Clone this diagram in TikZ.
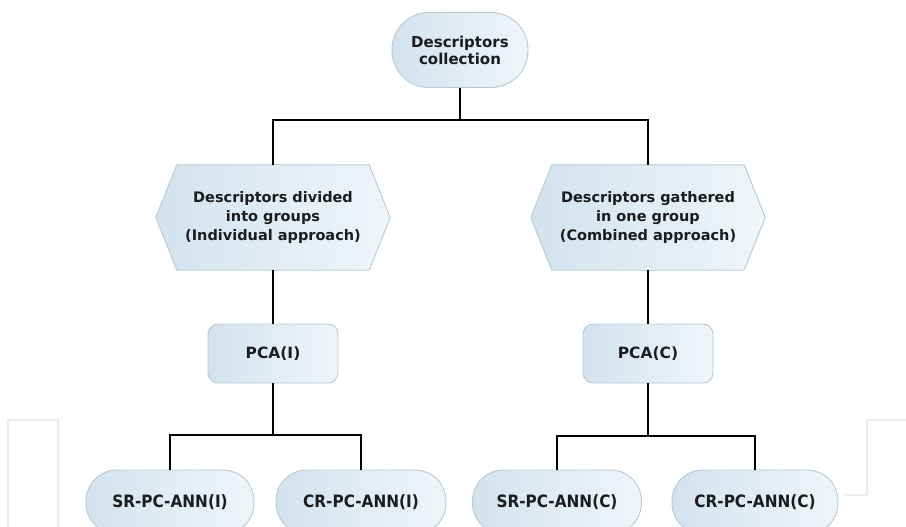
\documentclass[tikz,border=0pt]{standalone}
\usepackage{fontspec}
\setmainfont{DejaVu Sans}
\newfontfamily\condfont{DejaVu Sans Condensed}
\usetikzlibrary{calc}
\pgfdeclarelayer{background}
\pgfsetlayers{background,main}
\definecolor{fillA}{RGB}{210,227,238}
\definecolor{fillB}{RGB}{240,245,249}
\definecolor{edgec}{RGB}{185,200,212}
\definecolor{wm}{RGB}{236,236,236}
\definecolor{txt}{RGB}{28,28,28}
\begin{document}
\begin{tikzpicture}[x=1pt,y=-1pt,
  shadefill/.style={left color=fillA, right color=fillB},
  box/.style={draw=edgec, line width=0.9pt, shadefill, text=txt, align=center, inner sep=0pt,
    font=\fontsize{15}{17}\selectfont\bfseries},
  topbox/.style={box, minimum width=136pt, minimum height=75pt, rounded corners=37pt},
  hexnode/.style={inner sep=0pt, align=center, text=txt, minimum width=234pt, minimum height=105pt,
    font=\fontsize{14.5}{19}\selectfont\bfseries},
  hexfill/.style={draw=edgec, line width=0.9pt, shadefill},
  pcabox/.style={box, minimum width=130pt, minimum height=59pt, rounded corners=10pt,
    font=\fontsize{15.5}{18}\selectfont\bfseries},
  leafbox/.style={box, minimum height=64pt, rounded corners=31pt,
    font=\condfont\fontsize{17}{19}\selectfont\bfseries},
  conn/.style={draw=black, line width=1.7pt},
  wmline/.style={draw=wm, line width=1.5pt}
]
\useasboundingbox (0,0) rectangle (906,527);
% faint watermark frame lines
\draw[wmline] (8,527) -- (8,420) -- (58,420) -- (58,527);
\draw[wmline] (845,495) -- (867,495) -- (867,420) -- (906,420);

\node[topbox] (top) at (460,50) {Descriptors\\collection};
\node[hexnode] (h1) at (273,217.5) {Descriptors divided\\into groups\\(Individual approach)};
\node[hexnode] (h2) at (648,217.5) {Descriptors gathered\\in one group\\(Combined approach)};
\node[pcabox] (p1) at (273,353.5) {PCA(I)};
\node[pcabox] (p2) at (648,353.5) {PCA(C)};
\node[leafbox, minimum width=168pt] (b1) at (170,502) {SR-PC-ANN(I)};
\node[leafbox, minimum width=170pt] (b2) at (361,502) {CR-PC-ANN(I)};
\node[leafbox, minimum width=169pt] (b3) at (557,502) {SR-PC-ANN(C)};
\node[leafbox, minimum width=166pt] (b4) at (755,502) {CR-PC-ANN(C)};

\begin{pgfonlayer}{background}
\foreach \h in {h1,h2}{
  \path[hexfill] (\h.west) -- ([xshift=21pt]\h.north west) -- ([xshift=-21pt]\h.north east)
    -- (\h.east) -- ([xshift=-21pt]\h.south east) -- ([xshift=21pt]\h.south west) -- cycle;
}
\end{pgfonlayer}

\coordinate (j1) at (460,120);
\coordinate (j2) at (273,435);
\coordinate (j3) at (648,436);
\draw[conn] (top.south) -- (j1) -| (h1.north);
\draw[conn] (j1) -| (h2.north);
\draw[conn] (h1.south) -- (p1.north);
\draw[conn] (h2.south) -- (p2.north);
\draw[conn] (p1.south) -- (j2) -| (b1.north);
\draw[conn] (j2) -| (b2.north);
\draw[conn] (p2.south) -- (j3) -| (b3.north);
\draw[conn] (j3) -| (b4.north);
\end{tikzpicture}
\end{document}
